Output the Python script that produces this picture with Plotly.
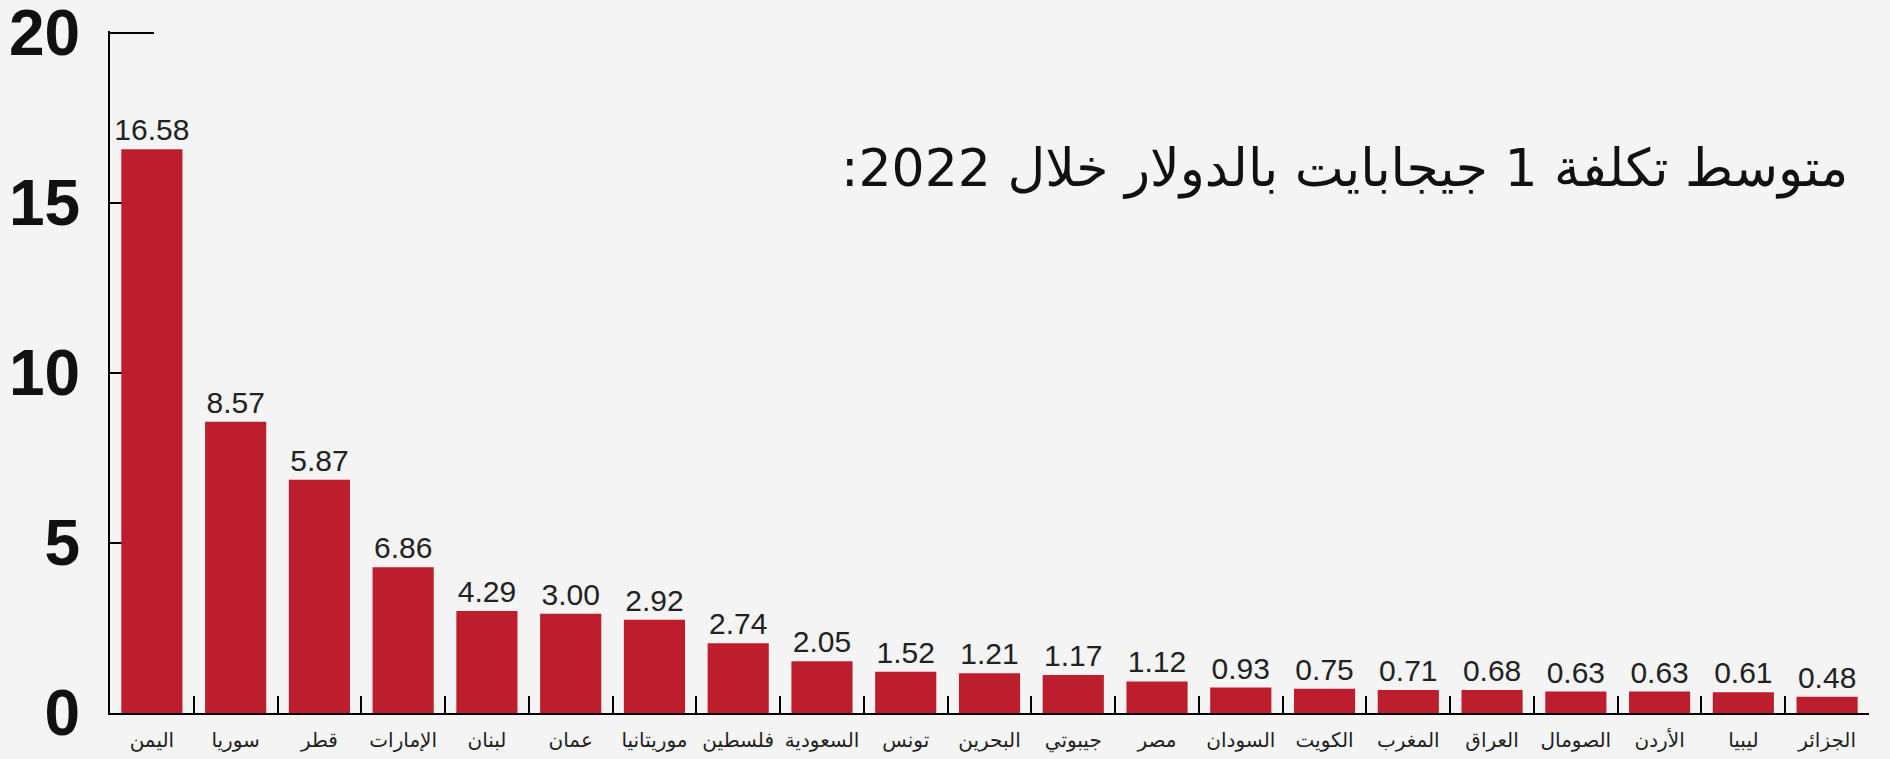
import plotly.graph_objects as go

countries = ["اليمن", "سوريا", "قطر", "الإمارات", "لبنان", "عمان", "موريتانيا", "فلسطين",
             "السعودية", "تونس", "البحرين", "جيبوتي", "مصر", "السودان", "الكويت", "المغرب",
             "العراق", "الصومال", "الأردن", "ليبيا", "الجزائر"]
bar_values = [16.58, 8.57, 6.86, 4.29, 3.00, 2.92, 2.74, 2.05, 1.52, 1.21, 1.17,
              1.12, 0.93, 0.75, 0.71, 0.68, 0.68, 0.63, 0.63, 0.61, 0.48]
value_labels = ["16.58", "8.57", "5.87", "6.86", "4.29", "3.00", "2.92", "2.74", "2.05",
                "1.52", "1.21", "1.17", "1.12", "0.93", "0.75", "0.71", "0.68", "0.63",
                "0.63", "0.61", "0.48"]
y_ticks = [0, 5, 10, 15, 20]
title_text = "متوسط تكلفة 1 جيجابايت بالدولار خلال 2022:" + "\u200f"

fig = go.Figure(go.Bar(
    x=countries, y=bar_values, text=value_labels,
    textposition="outside", constraintext="none", cliponaxis=False,
    textfont=dict(family="Liberation Sans, Arial", size=30, color="#222222"),
    marker=dict(color="#bd1e2e", line=dict(width=0)),
    hoverinfo="x+y",
))

fig.update_layout(
    width=1890, height=759,
    margin=dict(l=110, r=21, t=31, b=46, autoexpand=False),
    paper_bgcolor="#f4f4f4", plot_bgcolor="#f4f4f4",
    bargap=0.27, showlegend=False,
    annotations=[dict(
        text=title_text, xref="paper", yref="paper",
        x=(1850 - 110) / (1890 - 110 - 21), y=(713 - 168) / 682,
        xanchor="right", yanchor="middle", showarrow=False,
        font=dict(family="DejaVu Sans", size=52, color="#111111"),
    )],
)
fig.update_xaxes(
    type="category", range=[-0.5, 20.5], automargin=False,
    showline=True, linecolor="#000000", linewidth=2,
    ticks="inside", tickson="boundaries", ticklen=17, tickwidth=2, tickcolor="#000000",
    tickfont=dict(family="DejaVu Sans", size=20, color="#222222"), tickangle=0,
    ticklabelstandoff=8, showgrid=False, layer="below traces", ticklabeloverflow="allow",
)
fig.update_yaxes(
    range=[0, 20.06], tickvals=y_ticks, automargin=False,
    showline=True, linecolor="#000000", linewidth=2,
    ticks="inside", ticklen=44, tickwidth=2, tickcolor="#000000",
    tickfont=dict(family="Liberation Sans, Arial", size=64, color="#111111", weight="bold"),
    ticklabelstandoff=15, showgrid=False, zeroline=False, layer="below traces",
    ticklabeloverflow="allow",
)

fig.write_html(
    "out.html",
    config={"displayModeBar": False},
    post_script="document.body.style.margin='0';document.body.style.background='#f4f4f4';"
                "document.body.style.overflow='hidden';",
)
